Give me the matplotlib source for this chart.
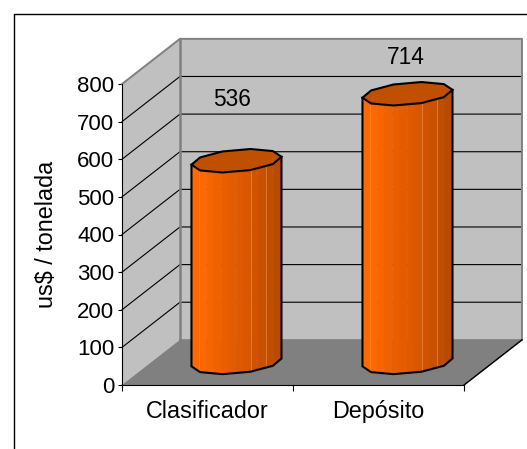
import numpy as np
import matplotlib
matplotlib.use("Agg")
import matplotlib.pyplot as plt
from matplotlib.lines import Line2D
from matplotlib.patches import Polygon

categories = ["Clasificador", "Depósito"]
values = [536, 714]
y_ticks = [0, 100, 200, 300, 400, 500, 600, 700, 800]

# depth of the fake 3D box, in data units
DEPTH_X = 0.339
DEPTH_Y = 120.0

WALL = "#C0C0C0"
WALL_EDGE = "#808080"
FLOOR = "#808080"
BAR_TOP = "#C05000"
BAR_SHADES = ["#FF6A00", "#FF6800", "#F86400", "#F06100", "#EA5E00", "#E45C00",
              "#DE5900", "#D85700", "#D05300", "#C85100", "#C04E00", "#B94B00"]
SEAM = "#F09050"

plt.rcParams["font.family"] = ["Liberation Sans", "DejaVu Sans"]


def project(x, y, d):
    return x + d * DEPTH_X, y + d * DEPTH_Y


def draw_box(ax):
    corners = [(0, 0, 0), (2, 0, 0), (2, 0, 1), (0, 0, 1)]
    ax.add_patch(Polygon([project(*c) for c in corners], fc=FLOOR, ec=FLOOR, lw=1, clip_on=False, zorder=1))

    corners = [(0, 0, 1), (2, 0, 1), (2, 800, 1), (0, 800, 1)]
    ax.add_patch(Polygon([project(*c) for c in corners], fc=WALL, ec="none", clip_on=False, zorder=1))

    corners = [(0, 0, 0), (0, 0, 1), (0, 800, 1), (0, 800, 0)]
    ax.add_patch(Polygon([project(*c) for c in corners], fc=WALL, ec="none", clip_on=False, zorder=1))

    for tick in y_ticks[1:-1]:
        xs, ys = zip(project(0, tick, 0), project(0, tick, 1), project(2, tick, 1))
        ax.plot(xs, ys, color="black", lw=0.8, clip_on=False, zorder=2)

    # grey outline of the walls
    xs, ys = zip(project(0, 800, 0), project(0, 800, 1), project(2, 800, 1), project(2, 0, 1))
    ax.plot(xs, ys, color=WALL_EDGE, lw=1.4, clip_on=False, zorder=3)
    xs, ys = zip(project(0, 800, 1), project(0, 0, 1))
    ax.plot(xs, ys, color=WALL_EDGE, lw=1.8, clip_on=False, zorder=3)
    xs, ys = zip(project(0, 0, 1), project(2, 0, 1))
    ax.plot(xs, ys, color=WALL_EDGE, lw=1.2, clip_on=False, zorder=3)

    xs, ys = zip(project(2, 0, 0), project(2, 0, 1))
    ax.plot(xs, ys, color="black", lw=1, clip_on=False, zorder=3)


def ring(center, height, n=10):
    # vertex 0 is the right extreme on screen, vertex n/2 the left one
    t = np.linspace(0, 2 * np.pi, n, endpoint=False) + np.radians(19.5)
    xs = center + 0.248 * np.cos(t)
    ds = 0.5 + 0.26 * np.sin(t)
    return np.array(project(xs, height, ds)).T


def draw_cylinder(ax, center, value):
    base = ring(center, 0)
    front = base[[5, 6, 7, 8, 9, 0]]

    edges = np.linspace(front[0, 0], front[-1, 0], len(BAR_SHADES) + 1)
    for i, shade in enumerate(BAR_SHADES):
        strip_x = np.unique(np.r_[edges[i], edges[i + 1], front[(front[:, 0] > edges[i]) & (front[:, 0] < edges[i + 1]), 0]])
        strip_y = np.interp(strip_x, front[:, 0], front[:, 1])
        outline = np.r_[np.c_[strip_x, strip_y], np.c_[strip_x[::-1], strip_y[::-1] + value]]
        ax.add_patch(Polygon(outline, fc=shade, ec=shade, lw=0.3, clip_on=False, zorder=4))

    # thin light seams between some facets
    for k in [1, 8, 10]:
        seam_y = np.interp(edges[k], front[:, 0], front[:, 1])
        ax.plot([edges[k], edges[k]], [seam_y, seam_y + value], color=SEAM, lw=0.6, alpha=0.7, clip_on=False, zorder=4.5)

    path = np.r_[[front[0] + (0, value)], front, [front[-1] + (0, value)]]
    ax.plot(path[:, 0], path[:, 1], color="black", lw=1.5, clip_on=False, zorder=5, solid_joinstyle="miter")

    ax.add_patch(Polygon(ring(center, value), fc=BAR_TOP, ec="black", lw=1.5, joinstyle="miter", clip_on=False, zorder=6))


def main():
    fig = plt.figure(figsize=(5.27, 4.49), dpi=100)
    ax = fig.add_axes([122 / 527, (449 - 385) / 449, 342 / 527, 301 / 449])
    ax.set_xlim(0, 2)
    ax.set_ylim(0, 800)
    ax.patch.set_visible(False)

    draw_box(ax)

    centers = np.arange(len(categories)) + 0.5
    offsets = [(-3, 44), (-1.5, 26)]
    for center, value, offset in zip(centers, values, offsets):
        draw_cylinder(ax, center, value)
        px, py = project(center, value, 0.5)
        ax.annotate(str(value), (px, py), xytext=offset, textcoords="offset points",
                    ha="center", va="center", fontsize=16.4, color="black", zorder=7)

    for side in ["top", "right"]:
        ax.spines[side].set_visible(False)
    ax.spines["left"].set_zorder(8)
    ax.spines["bottom"].set_zorder(8)

    ax.set_yticks(y_ticks)
    ax.tick_params(axis="y", labelsize=16, length=3, width=0.8, pad=2.5)

    ax.set_xticks([0, 1, 2])
    ax.set_xticklabels([])
    ax.set_xticks(centers, categories, minor=True)
    ax.tick_params(axis="x", which="major", length=4, width=0.8)
    ax.tick_params(axis="x", which="minor", length=0, labelsize=16.8, pad=11)

    fig.text(47 / 527, 1 - 234 / 449, "us$ / tonelada", rotation=90, ha="center", va="center", fontsize=16.8)

    fig.add_artist(Line2D([14 / 527, 14 / 527, 1], [0, 1 - 14 / 449, 1 - 14 / 449], color="black", lw=1))

    fig.savefig("out.png", dpi=100)
    plt.close(fig)


if __name__ == "__main__":
    main()
